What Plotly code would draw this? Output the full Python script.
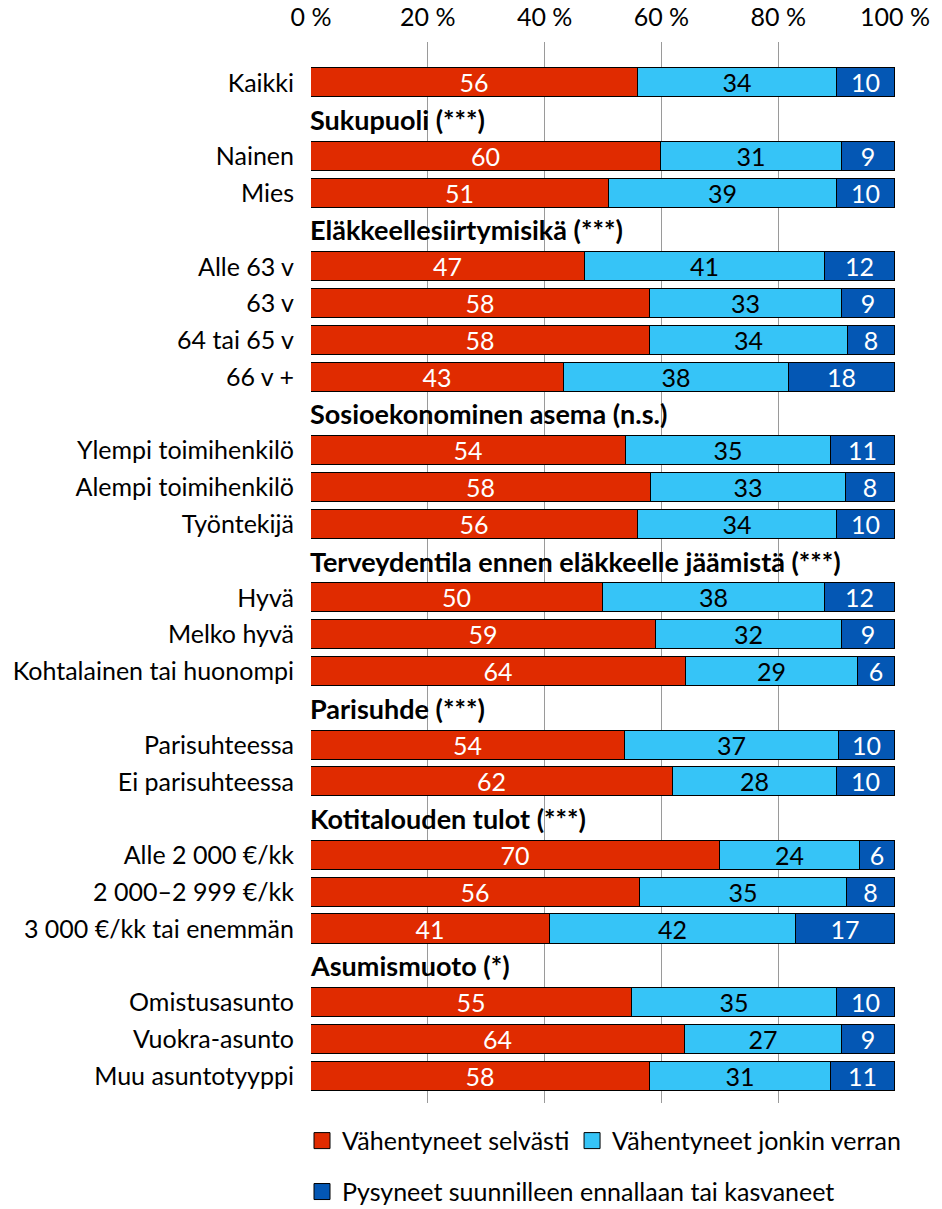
import plotly.graph_objects as go

# Rows top to bottom; headers are the group titles (no bars)
categories = [
    "Kaikki",
    "Sukupuoli (***)", "Nainen", "Mies",
    "Eläkkeellesiirtymisikä (***)", "Alle 63 v", "63 v", "64 tai 65 v", "66 v +",
    "Sosioekonominen asema (n.s.)", "Ylempi toimihenkilö", "Alempi toimihenkilö", "Työntekijä",
    "Terveydentila ennen eläkkeelle jäämistä (***)", "Hyvä", "Melko hyvä", "Kohtalainen tai huonompi",
    "Parisuhde (***)", "Parisuhteessa", "Ei parisuhteessa",
    "Kotitalouden tulot (***)", "Alle 2 000 €/kk", "2 000–2 999 €/kk", "3 000 €/kk tai enemmän",
    "Asumismuoto (*)", "Omistusasunto", "Vuokra-asunto", "Muu asuntotyyppi",
]
headers = [
    "Sukupuoli (***)", "Eläkkeellesiirtymisikä (***)", "Sosioekonominen asema (n.s.)",
    "Terveydentila ennen eläkkeelle jäämistä (***)", "Parisuhde (***)",
    "Kotitalouden tulot (***)", "Asumismuoto (*)",
]

selvasti = [56, None, 60, 51, None, 47, 58, 58, 43.4, None, 54, 58.2, 56, None, 50, 59, 64.2,
            None, 53.8, 62, None, 70, 56.4, 41, None, 55, 64, 58]
jonkin = [34, None, 31, 39, None, 41, 33, 34, 38.4, None, 35, 33.4, 34, None, 38, 32, 29.4,
          None, 36.6, 28, None, 24, 35.3, 42, None, 35, 27, 31]
pysyneet = [10, None, 9, 10, None, 12, 9, 8, 18.2, None, 11, 8.4, 10, None, 12, 9, 6.4,
            None, 9.6, 10, None, 6, 8.3, 17, None, 10, 9, 11]

series = ["Vähentyneet selvästi", "Vähentyneet jonkin verran",
          "Pysyneet suunnilleen ennallaan tai kasvaneet"]
colors = ["#E02B00", "#36C4F7", "#0457B4"]
text_colors = ["white", "black", "white"]
legend_ids = ["legend", "legend2", "legend3"]

FONT = "Lato"
rows = list(range(len(categories)))

fig = go.Figure()
for name, vals, col, tcol in zip(series, [selvasti, jonkin, pysyneet], colors, text_colors):
    fig.add_trace(go.Bar(
        y=rows,
        x=vals,
        name=name,
        orientation="h",
        width=0.79,
        marker=dict(color=col, line=dict(color="black", width=1)),
        texttemplate="%{x:.0f}",
        textposition="inside",
        insidetextanchor="middle",
        constraintext="none",
        textangle=0,
        textfont=dict(color=tcol, size=25, family=FONT),
        showlegend=False,
    ))

# Legend entries as larger outlined squares, one legend box each so they can be placed freely
for name, col, leg in zip(series, colors, legend_ids):
    fig.add_trace(go.Scatter(
        x=[None], y=[None], mode="markers", name=name,
        marker=dict(symbol="square", size=22, color=col, line=dict(color="black", width=1)),
        legend=leg,
    ))

# Bold group titles placed on the empty rows
for cat in headers:
    fig.add_annotation(
        x=0, y=categories.index(cat), xref="x", yref="y",
        text="<b>" + cat + "</b>", showarrow=False,
        xanchor="left", yanchor="middle", xshift=-3,
        font=dict(size=27, family=FONT, color="black"),
    )

tick_rows = [i for i, c in enumerate(categories) if c not in headers]

leg_font = dict(size=25, family=FONT)

fig.update_layout(
    width=942,
    height=1209,
    barmode="stack",
    bargap=0,
    plot_bgcolor="white",
    paper_bgcolor="white",
    margin=dict(l=311, r=47, t=42, b=106, autoexpand=False),
    font=dict(family=FONT, size=25, color="black"),
    legend=dict(x=-0.0154, y=-0.014, xanchor="left", yanchor="top", font=leg_font),
    legend2=dict(x=0.447, y=-0.014, xanchor="left", yanchor="top", font=leg_font),
    legend3=dict(x=-0.0154, y=-0.062, xanchor="left", yanchor="top", font=leg_font),
)

fig.update_xaxes(
    range=[0, 100],
    side="top",
    tickvals=[0, 20, 40, 60, 80, 100],
    ticktext=["0 %", "20 %", "40 %", "60 %", "80 %", "100 %"],
    showgrid=True,
    gridcolor="#9A9A9A",
    gridwidth=1,
    zeroline=False,
    showline=False,
    ticks="",
    ticklabelstandoff=10,
    automargin=False,
    tickfont=dict(size=25, family=FONT),
)

fig.update_yaxes(
    range=[27.73, -1.11],
    tickvals=tick_rows,
    ticktext=[categories[i] for i in tick_rows],
    showgrid=False,
    zeroline=False,
    showline=False,
    ticks="",
    ticklabelstandoff=16,
    automargin=False,
    tickfont=dict(size=25, family=FONT),
)

# drop the default 8px page margin so the figure fills the window exactly
fig.write_html(
    "out.html",
    config={"displayModeBar": False},
    post_script="document.body.style.margin='0';",
)
